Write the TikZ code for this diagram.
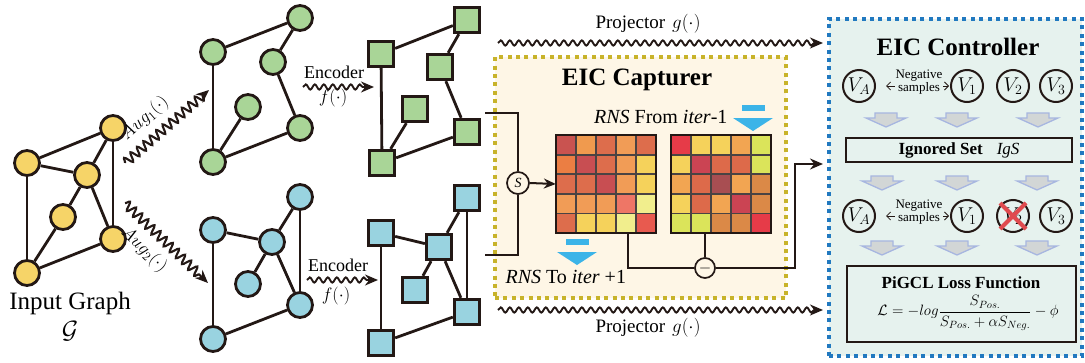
\RequirePackage{fix-cm}
\documentclass[tikz,border=0pt]{standalone}
\usepackage[no-math]{fontspec}
\setmainfont{Liberation Serif}
\usetikzlibrary{decorations.pathmorphing,arrows.meta,shapes.geometric,calc}

\definecolor{ink}{HTML}{231815}
\definecolor{ynode}{HTML}{F6D468}
\definecolor{gnode}{HTML}{A9D597}
\definecolor{bnode}{HTML}{99D3E0}
\definecolor{capfill}{HTML}{FEF6E6}
\definecolor{capline}{HTML}{C8B32A}
\definecolor{ctlfill}{HTML}{E6F2EE}
\definecolor{ctlline}{HTML}{2179C0}
\definecolor{rnsblue}{HTML}{3CB4E8}
\definecolor{arrline}{HTML}{A7B6E0}
\definecolor{arrfill}{HTML}{D2D6D6}
\definecolor{crossred}{HTML}{E04A4E}
\definecolor{gridc}{HTML}{4A4343}
% heatmap palette
\definecolor{hA}{HTML}{C95350}
\definecolor{hB}{HTML}{F09A4E}
\definecolor{hC}{HTML}{DD6D4C}
\definecolor{hD}{HTML}{F19C56}
\definecolor{hE}{HTML}{EB7E43}
\definecolor{hF}{HTML}{C84E52}
\definecolor{hG}{HTML}{F5D25B}
\definecolor{hH}{HTML}{EE7666}
\definecolor{hI}{HTML}{F1EE8D}
\definecolor{hJ}{HTML}{E85A4F}
\definecolor{kA}{HTML}{E63B48}
\definecolor{kB}{HTML}{F2A552}
\definecolor{kC}{HTML}{DBE45A}
\definecolor{kD}{HTML}{CB4453}
\definecolor{kE}{HTML}{DD6A4A}
\definecolor{kF}{HTML}{A84E52}
\definecolor{kG}{HTML}{DB8947}

\newcommand\hmrow[7]{%
  \fill[#3] (#1,#2) rectangle ++(20,19.6);
  \fill[#4] ($(#1,#2)+(20,0)$) rectangle ++(20,19.6);
  \fill[#5] ($(#1,#2)+(40,0)$) rectangle ++(20,19.6);
  \fill[#6] ($(#1,#2)+(60,0)$) rectangle ++(20,19.6);
  \fill[#7] ($(#1,#2)+(80,0)$) rectangle ++(20,19.6);
}

\begin{document}
\begin{tikzpicture}[x=1pt,y=-1pt,
  gcir/.style={circle, draw=ink, line width=2.8pt, minimum size=25pt, inner sep=0pt},
  gsq/.style={rectangle, draw=ink, line width=2.8pt, minimum size=25.5pt, inner sep=0pt},
  edg/.style={draw=ink, line width=2.8pt},
  conn/.style={draw=ink, line width=1.7pt},
  tip/.style={-{Stealth[length=13pt,width=11pt]}},
  snk/.style={decorate, decoration={snake, amplitude=2.6pt, segment length=9pt, post length=7pt}, line width=1.9pt, draw=ink, tip},
  augsnk/.style={decorate, decoration={snake, amplitude=4.5pt, segment length=8.5pt, post length=8pt}, line width=2.1pt, draw=ink, tip},
  vcir/.style={circle, draw=ink, line width=2pt, minimum size=32pt, inner sep=0pt, font=\fontsize{20}{24}\selectfont},
  ctlarr/.pic={\draw[draw=arrline, fill=arrfill, line width=1.3pt, line join=miter]
      (-11,0) -- (11,0) -- (11,5) -- (20,5) -- (0,14) -- (-20,5) -- (-11,5) -- cycle;},
  rnsarr/.pic={\fill[rnsblue] (-11.5,0) rectangle (11.5,6);
      \fill[rnsblue] (-20,13) -- (20,13) -- (0,26) -- cycle;},
]
\useasboundingbox (0,0) rectangle (1085,362);

% ---------- boxes ----------
\node[draw=capline, fill=capfill, line width=4pt, dash pattern=on 4pt off 4.4pt,
      minimum width=291pt, minimum height=241pt, inner sep=0pt] (cap) at (640.5,177.5) {};
\node[draw=ctlline, fill=ctlfill, line width=4pt, dash pattern=on 4pt off 4.4pt,
      minimum width=253pt, minimum height=337pt, inner sep=0pt] (ctl) at (955.5,187.5) {};

% ---------- input graph ----------
\node[gcir, fill=ynode] (y1) at (113,128) {};
\node[gcir, fill=ynode] (y2) at (27,163) {};
\node[gcir, fill=ynode] (y3) at (87,175) {};
\node[gcir, fill=ynode] (y4) at (63,217) {};
\node[gcir, fill=ynode] (y5) at (113,239) {};
\node[gcir, fill=ynode] (y6) at (27,273) {};
\foreach \a/\b in {y2/y1,y2/y3,y2/y6,y1/y3,y1/y5,y3/y4,y3/y5,y4/y6,y6/y5}
  \draw[edg] (\a) -- (\b);
\node[font=\fontsize{25}{30}\selectfont] (inlab) at (70,303) {Input Graph};
\node[font=\fontsize{25}{30}\selectfont] (inG) at (70,331) {$\mathcal{G}$};

% ---------- green circles ----------
\node[gcir, fill=gnode] (ga) at (213,52) {};
\node[gcir, fill=gnode] (gb) at (300,18) {};
\node[gcir, fill=gnode] (gc) at (273,62) {};
\node[gcir, fill=gnode] (gd) at (248,107) {};
\node[gcir, fill=gnode] (ge) at (300,128) {};
\node[gcir, fill=gnode] (gf) at (213,162) {};
\foreach \a/\b in {ga/gb,gb/gc,gc/ge,ge/gf,gf/ga,gf/gd}
  \draw[edg] (\a) -- (\b);

% ---------- blue circles ----------
\node[gcir, fill=bnode] (ba) at (300,197) {};
\node[gcir, fill=bnode] (bb) at (213,230) {};
\node[gcir, fill=bnode] (bc) at (272,242) {};
\node[gcir, fill=bnode] (bd) at (248,284) {};
\node[gcir, fill=bnode] (be) at (300,305) {};
\node[gcir, fill=bnode] (bf) at (213,339) {};
\foreach \a/\b in {bb/bc,bc/ba,ba/be,bc/be,bc/bd,be/bf,bf/bb}
  \draw[edg] (\a) -- (\b);

% ---------- green squares ----------
\node[gsq, fill=gnode] (sa) at (467,20) {};
\node[gsq, fill=gnode] (sb) at (381,54) {};
\node[gsq, fill=gnode] (sc) at (440,67) {};
\node[gsq, fill=gnode] (sd) at (415,109) {};
\node[gsq, fill=gnode] (se) at (467,132) {};
\node[gsq, fill=gnode] (sf) at (382,163) {};
\foreach \a/\b in {sb/sa,sa/sc,sc/se,se/sf,sf/sb,sf/sd}
  \draw[edg] (\a) -- (\b);

% ---------- blue squares ----------
\node[gsq, fill=bnode] (ta) at (467,198) {};
\node[gsq, fill=bnode] (tb) at (381,233) {};
\node[gsq, fill=bnode] (tc) at (439,247) {};
\node[gsq, fill=bnode] (td) at (415,290) {};
\node[gsq, fill=bnode] (te) at (467,312) {};
\node[gsq, fill=bnode] (tf) at (381,343) {};
\foreach \a/\b in {tb/tc,tc/ta,ta/te,tc/te,tc/td,te/tf,tf/tb}
  \draw[edg] (\a) -- (\b);

% ---------- augmentation arrows ----------
\coordinate (aug1s) at (125,163);
\coordinate (aug1e) at (209,90);
\coordinate (aug2s) at (125,203);
\coordinate (aug2e) at (208,283);
\draw[augsnk] (aug1s) -- (aug1e);
\draw[augsnk] (aug2s) -- (aug2e);
\path (aug1s) -- (aug1e) node[pos=0.40, sloped, above=8pt, font=\fontsize{18}{20}\selectfont] (aug1l) {$Aug_1(\cdot)$};
\path (aug2s) -- (aug2e) node[pos=0.40, sloped, below=8pt, font=\fontsize{18}{20}\selectfont] (aug2l) {$Aug_2(\cdot)$};

% ---------- encoder arrows ----------
\coordinate (enc1s) at (303,87);
\coordinate (enc1e) at (374,87);
\coordinate (enc2s) at (307,280);
\coordinate (enc2e) at (378,280);
\draw[snk] (enc1s) -- (enc1e);
\draw[snk] (enc2s) -- (enc2e);
\node[font=\fontsize{18}{20}\selectfont] (enc1t) at (334,72) {Encoder};
\node[font=\fontsize{18}{20}\selectfont] (enc1f) at (333,98) {$f(\cdot)$};
\node[font=\fontsize{18}{20}\selectfont] (enc2t) at (338,265) {Encoder};
\node[font=\fontsize{18}{20}\selectfont] (enc2f) at (336,296) {$f(\cdot)$};

% ---------- projector arrows ----------
\coordinate (pr1s) at (498,43);
\coordinate (pr1e) at (823,43);
\coordinate (pr2s) at (498,310);
\coordinate (pr2e) at (823,310);
\draw[snk] (pr1s) -- (pr1e);
\draw[snk] (pr2s) -- (pr2e);
\node[font=\fontsize{19}{22}\selectfont] (pr1t) at (648,24) {Projector\hspace{7pt}$g(\cdot)$};
\node[font=\fontsize{19}{22}\selectfont] (pr2t) at (648,328) {Projector\hspace{7pt}$g(\cdot)$};

% ---------- EIC capturer ----------
\node[font=\bfseries\fontsize{25}{30}\selectfont] (captitle) at (637,80) {EIC Capturer};

\node[minimum width=100pt, minimum height=98pt, inner sep=0pt] (hm1) at (606,184) {};
\node[minimum width=100pt, minimum height=98pt, inner sep=0pt] (hm2) at (721,184) {};
\hmrow{556}{135}{hA}{hB}{hC}{hD}{hC}
\hmrow{556}{154.6}{hE}{hF}{hC}{hD}{hG}
\hmrow{556}{174.2}{hC}{hC}{hF}{hD}{hG}
\hmrow{556}{193.8}{hD}{hD}{hD}{hH}{hI}
\hmrow{556}{213.4}{hC}{hG}{hG}{hI}{hJ}
\hmrow{671}{135}{kA}{hG}{hG}{kB}{kC}
\hmrow{671}{154.6}{hG}{kD}{kE}{kE}{kC}
\hmrow{671}{174.2}{kB}{kE}{kF}{kB}{kG}
\hmrow{671}{193.8}{hG}{kE}{kB}{kD}{kG}
\hmrow{671}{213.4}{kC}{kC}{kG}{kG}{kA}
\foreach \ox in {556,671}{
  \foreach \k in {1,2,3,4}{
    \draw[gridc, line width=1.8pt] (\ox+20*\k,135) -- (\ox+20*\k,233);
    \draw[gridc, line width=1.8pt] (\ox,135+19.6*\k) -- (\ox+100,135+19.6*\k);
  }
}
\draw[ink, line width=2.5pt] (hm1.north west) rectangle (hm1.south east);
\draw[ink, line width=2.5pt] (hm2.north west) rectangle (hm2.south east);

\node[anchor=east, font=\fontsize{20}{24}\selectfont] (rnsfrom) at (731,117) {\textit{RNS} From \textit{iter}-1};
\node[anchor=west, font=\fontsize{20}{24}\selectfont] (rnsto) at (502,277) {\textit{RNS} To \textit{iter} +1};
\pic at (753,105) {rnsarr};
\pic at (577,239) {rnsarr};

% similarity bracket
\node[circle, draw=ink, fill=capfill, line width=1.7pt, minimum size=22pt, inner sep=0pt,
      font=\itshape\fontsize{14}{16}\selectfont] (S) at (518,183) {S};
\coordinate (br1) at (485,113);
\coordinate (br2) at (485,255);
\draw[conn] (br1) -| (S.north);
\draw[conn] (br2) -| (S.south);
\draw[conn, line width=2pt, -{Stealth[length=12pt,width=10pt]}] (S.east) -- (hm1.west);

% difference
\node[circle, draw=ink, fill=capfill, line width=1.7pt, minimum size=20pt, inner sep=0pt,
      font=\fontsize{16}{18}\selectfont] (mn) at (705,268) {$-$};
\draw[conn] (628,0 |- hm1.south) |- (mn.west);
\draw[conn] (705,0 |- hm2.south) -- (mn.north);
\coordinate (in2) at (823,164);
\draw[conn, tip] (mn.east) -| (795,164) -- (in2);

% ---------- EIC controller ----------
\node[font=\bfseries\fontsize{25}{30}\selectfont] (ctltitle) at (958,47) {EIC Controller};

\node[vcir] (vA1) at (859,86) {$V_A$};
\node[vcir] (v11) at (967,86) {$V_1$};
\node[vcir] (v21) at (1013,86) {$V_2$};
\node[vcir] (v31) at (1056,86) {$V_3$};
\draw[ink, line width=0.8pt, {Straight Barb[length=4pt,width=8pt]}-{Straight Barb[length=4pt,width=8pt]}, shorten <=10pt, shorten >=1pt] (vA1.east) -- (v11.west);
\node[fill=ctlfill, inner sep=0.5pt, align=center, font=\fontsize{13}{13}\selectfont] (neg1) at (919,82) {Negative\\samples};

\pic at (886,113) {ctlarr};
\pic at (957,113) {ctlarr};
\pic at (1038,113) {ctlarr};

\node[draw=ink, line width=2pt, minimum width=226pt, minimum height=24pt, inner sep=0pt,
      font=\fontsize{17}{20}\selectfont] (igs) at (959,150) {\textbf{Ignored Set}\hspace{14pt}\textit{IgS}};

\pic at (882,176) {ctlarr};
\pic at (957,176) {ctlarr};
\pic at (1037,176) {ctlarr};

\node[vcir] (vA2) at (859,216) {$V_A$};
\node[vcir] (v12) at (967,216) {$V_1$};
\node[vcir] (v22) at (1013,216) {$V_2$};
\node[vcir] (v32) at (1056,216) {$V_3$};
\draw[ink, line width=0.8pt, {Straight Barb[length=4pt,width=8pt]}-{Straight Barb[length=4pt,width=8pt]}, shorten <=10pt, shorten >=1pt] (vA2.east) -- (v12.west);
\node[fill=ctlfill, inner sep=0.5pt, align=center, font=\fontsize{13}{13}\selectfont] (neg2) at (919,212) {Negative\\samples};
\draw[crossred, line width=4pt] ($(v22)+(-13,-13)$) -- ($(v22)+(13,13)$);
\draw[crossred, line width=4pt] ($(v22)+(13,-13)$) -- ($(v22)+(-13,13)$);

\pic at (882,241) {ctlarr};
\pic at (957,241) {ctlarr};
\pic at (1037,241) {ctlarr};

\node[draw=ink, line width=2pt, minimum width=229pt, minimum height=76pt, inner sep=0pt] (loss) at (961.5,304) {};
\node[font=\bfseries\fontsize{17}{20}\selectfont] (losst) at (961,283) {PiGCL Loss Function};
\node[font=\fontsize{15}{18}\selectfont] (lossf) at (968,313)
  {$\displaystyle \mathcal{L}=-log\frac{S_{Pos.}}{S_{Pos.}+\alpha S_{Neg.}}-\phi$};

\end{tikzpicture}
\end{document}
